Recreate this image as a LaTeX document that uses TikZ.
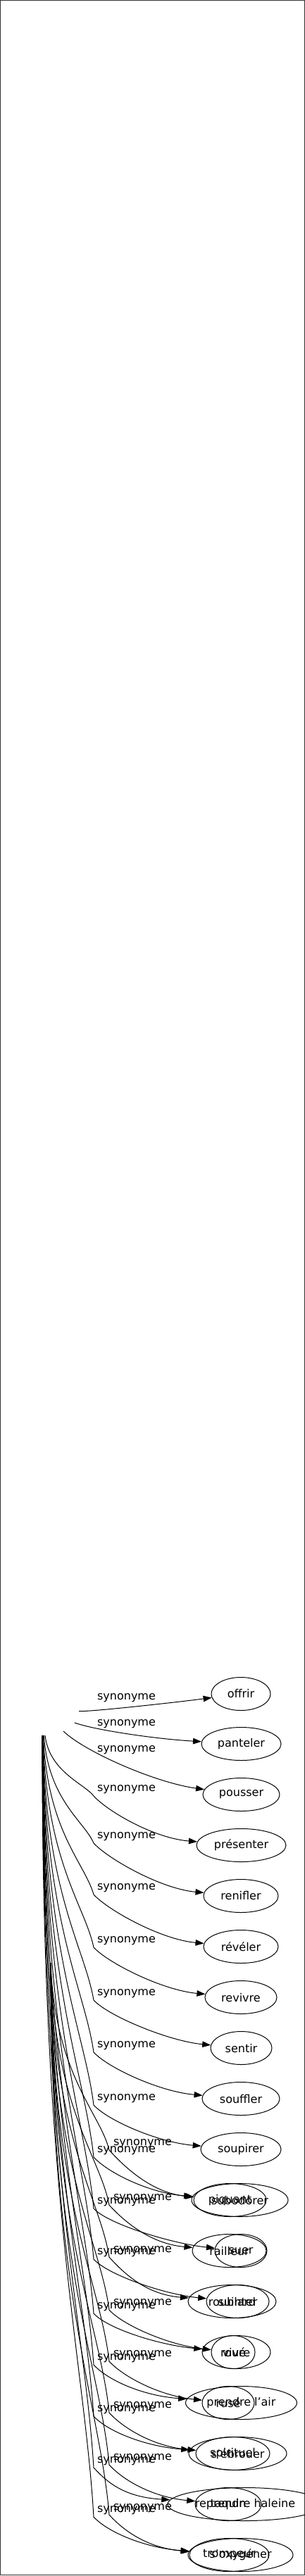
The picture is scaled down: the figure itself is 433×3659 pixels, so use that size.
\documentclass[tikz,border=0pt]{standalone}
\usepackage{fontspec}
\setmainfont{DejaVu Sans}
\usetikzlibrary{shapes.geometric,arrows.meta}
\newcommand\aedge[3]{%
  \pgfmathsetmacro\aePy{#2+9}%
  \pgfmathsetmacro\aeCa{2465+0.6*(\aePy-2465)}%
  \pgfmathsetmacro\aeCb{\aePy-0.2*(\aePy-2465)}%
  \pgfmathsetmacro\aePz{\aePy+22}%
  \draw[syn] (srcA) .. controls (#1,\aeCa) and (120,\aeCb) .. (133,\aePy)
     .. controls (153,\aePz) and ([xshift=-60pt,yshift=10pt]#3.west) .. (#3);%
}
\newcommand\bedge[3]{%
  \pgfmathsetmacro\bePy{#2+9}%
  \pgfmathsetmacro\beCa{2788+0.6*(\bePy-2788)}%
  \pgfmathsetmacro\beCb{\bePy-0.2*(\bePy-2788)}%
  \pgfmathsetmacro\bePz{\bePy+22}%
  \draw[syn] (srcB) .. controls (#1,\beCa) and (142,\beCb) .. (155,\bePy)
     .. controls (175,\bePz) and ([xshift=-60pt,yshift=10pt]#3.west) .. (#3);%
}
\begin{document}
\begin{tikzpicture}[x=1pt,y=-1pt,
  word/.style={ellipse, draw, line width=1pt, inner sep=0pt, minimum height=47pt,
    font=\fontsize{16}{19}\selectfont},
  rel/.style={inner sep=0pt, font=\fontsize{16}{19}\selectfont},
  syn/.style={line width=1pt, -{Triangle[length=12pt,width=8.5pt]}}]
\useasboundingbox (0,0) rectangle (433,3659);
\draw[line width=1pt, black!80] (0.7,0.7) rectangle (432.3,3657.3);

% invisible sources
\node[ellipse, minimum width=104pt, minimum height=70pt, inner sep=0pt] (srcA) at (60,2430) {};
\node[inner sep=0pt, minimum size=0pt] (srcB) at (72,2788) {};

% graph A nodes
\node[word, minimum width=84pt]  (offrir)    at (342,2406)   {offrir};
\node[word, minimum width=113pt] (panteler)  at (342.5,2477) {panteler};
\node[word, minimum width=109pt] (pousser)   at (342.5,2549) {pousser};
\node[word, minimum width=127pt] (presenter) at (342.5,2621) {présenter};
\node[word, minimum width=106pt] (renifler)  at (342,2693)   {renifler};
\node[word, minimum width=106pt] (reveler)   at (342,2765)   {révéler};
\node[word, minimum width=102pt] (revivre)   at (342,2837)   {revivre};
\node[word, minimum width=87pt]  (sentir)    at (342.5,2909) {sentir};
\node[word, minimum width=110pt] (souffler)  at (342,2981)   {souffler};
\node[word, minimum width=114pt] (soupirer)  at (342,3053)   {soupirer};
\node[word, minimum width=137pt] (subodorer) at (340.5,3125) {subodorer};
\node[word, minimum width=74pt]  (suer)      at (342,3197)   {suer};
\node[word, minimum width=89pt]  (suinter)   at (337.5,3269) {suinter};
\node[word, minimum width=97pt]  (vivre)     at (335.5,3341) {vivre};
\node[word, minimum width=158pt] (prendre)   at (342.5,3413) {prendre l'air};
\node[word, minimum width=139pt] (ebrouer)   at (337.5,3485) {s'ébrouer};
\node[word, minimum width=220pt] (reprendre) at (348,3557)   {reprendre haleine};
\node[word, minimum width=149pt] (oxygener)  at (341.5,3629) {s'oxygéner};

% graph B nodes
\node[word, minimum width=103pt] (piquant)   at (326.5,3125) {piquant};
\node[word, minimum width=105pt] (railleur)  at (325.5,3197) {railleur};
\node[word, minimum width=125pt] (roublard)  at (329.5,3269) {roublard};
\node[word, minimum width=62pt]  (roue)      at (331,3341)   {roué};
\node[word, minimum width=74pt]  (ruse)      at (324,3413)   {rusé};
\node[word, minimum width=105pt] (spirituel) at (330.5,3485) {spirituel};
\node[word, minimum width=94pt]  (taquin)    at (324,3557)   {taquin};
\node[word, minimum width=113pt] (trompeur)  at (325.5,3629) {trompeur};

% labels of graph A
\node[rel] (la1)  at (179.5,2412) {synonyme};
\node[rel] (la2)  at (179.5,2449) {synonyme};
\node[rel] (la3)  at (179.5,2486) {synonyme};
\node[rel] (la4)  at (179.5,2542) {synonyme};
\node[rel] (la5)  at (179.5,2609) {synonyme};
\node[rel] (la6)  at (179.5,2682) {synonyme};
\node[rel] (la7)  at (179.5,2757) {synonyme};
\node[rel] (la8)  at (179.5,2832) {synonyme};
\node[rel] (la9)  at (179.5,2906) {synonyme};
\node[rel] (la10) at (179.5,2981) {synonyme};
\node[rel] (la11) at (179.5,3055) {synonyme};
\node[rel] (la12) at (179.5,3128) {synonyme};
\node[rel] (la13) at (179.5,3200) {synonyme};
\node[rel] (la14) at (179.5,3277) {synonyme};
\node[rel] (la15) at (179.5,3350) {synonyme};
\node[rel] (la16) at (179.5,3423) {synonyme};
\node[rel] (la17) at (179.5,3496) {synonyme};
\node[rel] (la18) at (179.5,3566) {synonyme};

% labels of graph B
\node[rel] (lb1) at (202.5,3045) {synonyme};
\node[rel] (lb2) at (202.5,3123) {synonyme};
\node[rel] (lb3) at (202.5,3197) {synonyme};
\node[rel] (lb4) at (202.5,3272) {synonyme};
\node[rel] (lb5) at (202.5,3345) {synonyme};
\node[rel] (lb6) at (202.5,3418) {synonyme};
\node[rel] (lb7) at (202.5,3492) {synonyme};
\node[rel] (lb8) at (202.5,3563) {synonyme};

% edges of graph A
\draw[syn] (srcA) .. controls (133,2431) and (250,2418) .. (offrir);
\draw[syn] (srcA) .. controls (133,2457) and (220,2470) .. (panteler);
\draw[syn] (srcA) .. controls (120,2488) and (220,2532) .. (pousser);
\aedge{70}{2542}{presenter}
\aedge{68.5}{2609}{renifler}
\aedge{67}{2682}{reveler}
\aedge{66}{2757}{revivre}
\aedge{65}{2832}{sentir}
\aedge{64.5}{2906}{souffler}
\aedge{64}{2981}{soupirer}
\aedge{63.5}{3055}{subodorer}
\aedge{63}{3128}{suer}
\aedge{62.5}{3200}{suinter}
\aedge{62}{3277}{vivre}
\aedge{61.5}{3350}{prendre}
\aedge{61}{3423}{ebrouer}
\aedge{60}{3496}{reprendre}
\aedge{59}{3566}{oxygener}

% edges of graph B
\bedge{78}{3045}{piquant}
\bedge{77}{3123}{railleur}
\bedge{76}{3197}{roublard}
\bedge{75}{3272}{roue}
\bedge{74}{3345}{ruse}
\bedge{73.5}{3418}{spirituel}
\bedge{73}{3492}{taquin}
\bedge{72}{3563}{trompeur}
\end{tikzpicture}
\end{document}
